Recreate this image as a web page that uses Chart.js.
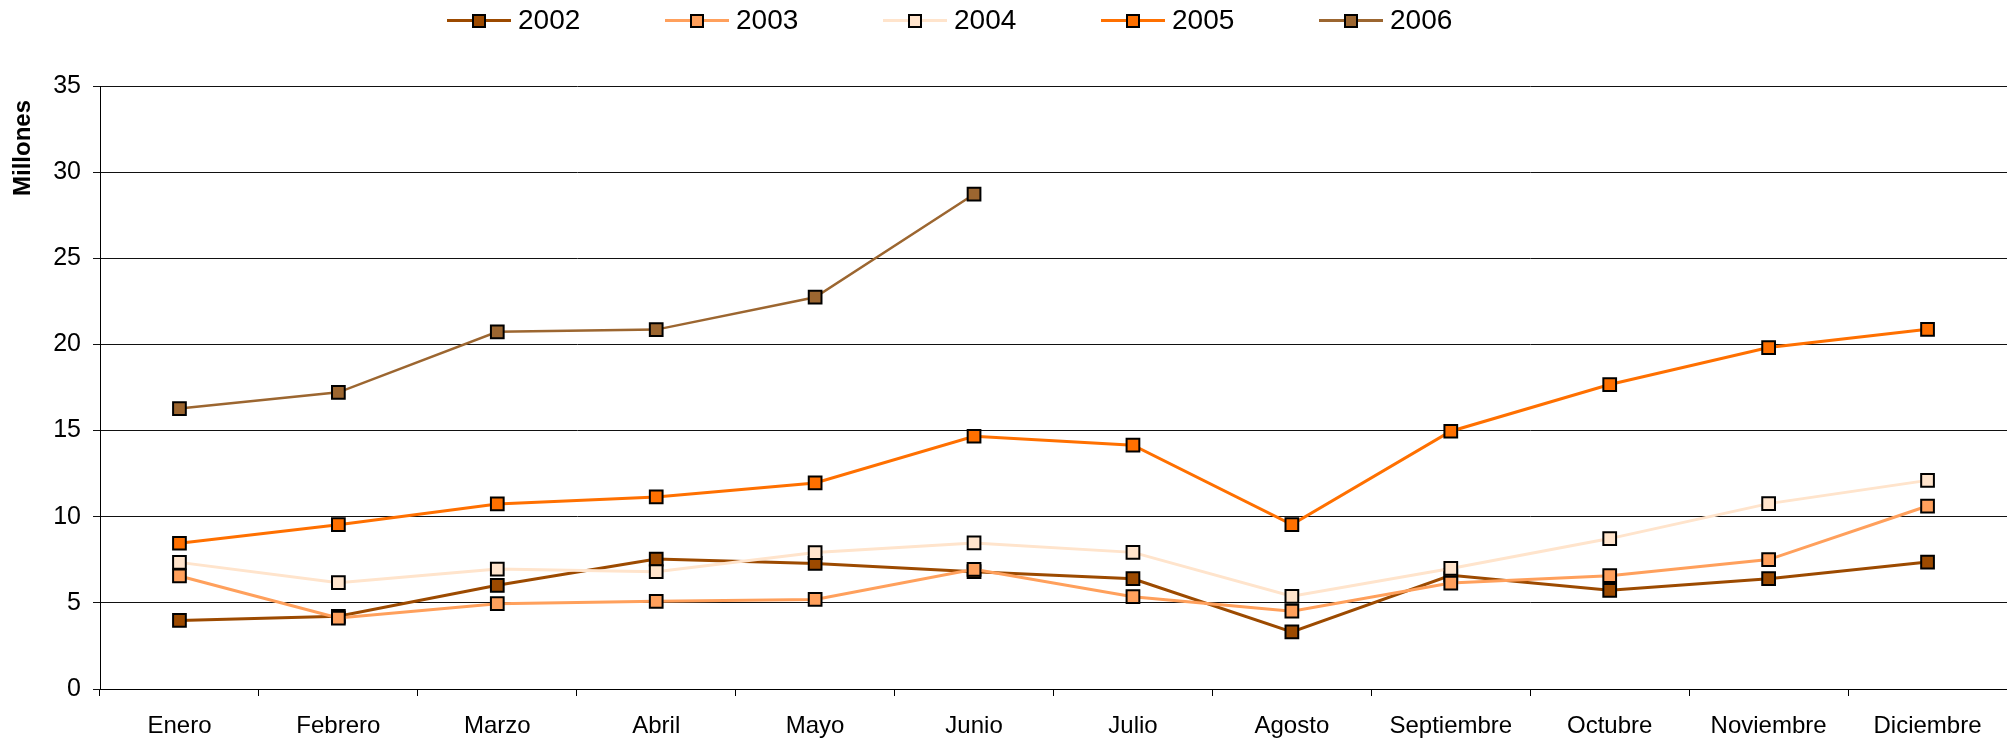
<!DOCTYPE html>
<html lang="es">
<head>
<meta charset="utf-8">
<title>Millones por mes 2002-2006</title>
<script src="https://cdn.jsdelivr.net/npm/chart.js@4.4.1/dist/chart.umd.min.js"></script>
<style>
  html, body { margin: 0; padding: 0; background: #fff; overflow: hidden; }
  #wrap { position: relative; width: 2007px; height: 742px; }
  #chart { display: block; }
  #legend { position: absolute; left: 447px; top: 3px; display: flex; font-family: Arial, "Liberation Sans", sans-serif; font-size: 28px; color: #000; }
  .item { display: flex; align-items: center; width: 218px; height: 34px; }
  .sample { position: relative; width: 64px; height: 34px; margin-right: 7px; }
  .sample .ln { position: absolute; left: 0; right: 0; top: 16px; height: 3px; }
  .sample .mk { position: absolute; left: 25px; top: 11px; width: 10px; height: 10px; border: 2px solid #000; }
</style>
</head>
<body>
<div id="wrap">
  <canvas id="chart" width="2007" height="742"></canvas>
  <div id="legend"></div>
</div>
<script>
const months = ["Enero", "Febrero", "Marzo", "Abril", "Mayo", "Junio", "Julio", "Agosto", "Septiembre", "Octubre", "Noviembre", "Diciembre"];
const years = ["2002", "2003", "2004", "2005", "2006"];
const colors = ["#9c4a00", "#ffa05c", "#ffe4cc", "#ff7000", "#9c6630"];

const v2002 = [3.98, 4.22, 6.02, 7.54, 7.29, 6.81, 6.40, 3.31, 6.60, 5.73, 6.40, 7.37];
const v2003 = [6.56, 4.12, 4.95, 5.09, 5.20, 6.95, 5.36, 4.52, 6.15, 6.58, 7.51, 10.62];
const v2004 = [7.35, 6.17, 6.96, 6.81, 7.92, 8.48, 7.93, 5.38, 7.00, 8.73, 10.76, 12.11];
const v2005 = [8.46, 9.54, 10.74, 11.15, 11.96, 14.67, 14.15, 9.54, 14.96, 17.67, 19.82, 20.88];
const v2006 = [16.28, 17.22, 20.73, 20.86, 22.74, 28.72, null, null, null, null, null, null];

const yTicks = [0, 5, 10, 15, 20, 25, 30, 35];
const yTitle = "Millones";

const series = [v2002, v2003, v2004, v2005, v2006];
const FONT = "Arial, 'Liberation Sans', sans-serif";

// legend drawn as html, left of centre like the original
const legendEl = document.getElementById("legend");
years.forEach((y, i) => {
  const item = document.createElement("div");
  item.className = "item";
  item.innerHTML = `<div class="sample"><div class="ln" style="background:${colors[i]}"></div><div class="mk" style="background:${colors[i]}"></div></div><span>${y}</span>`;
  legendEl.appendChild(item);
});

const yTitlePlugin = {
  id: "yTitle",
  afterDraw(chart) {
    const ctx = chart.ctx;
    ctx.save();
    ctx.translate(23, 148);
    ctx.rotate(-Math.PI / 2);
    ctx.font = `bold 24px ${FONT}`;
    ctx.fillStyle = "#000";
    ctx.textAlign = "center";
    ctx.textBaseline = "middle";
    ctx.fillText(yTitle, 0, 0);
    ctx.restore();
  },
};

new Chart(document.getElementById("chart"), {
  type: "line",
  data: {
    labels: months,
    datasets: series.map((data, i) => ({
      label: years[i],
      data,
      order: series.length - 1 - i,
      borderColor: colors[i],
      backgroundColor: colors[i],
      borderWidth: i === 4 ? 2.5 : 3,
      pointStyle: "rect",
      pointRadius: 9,
      pointBorderWidth: 2,
      pointBorderColor: "#000",
      pointBackgroundColor: colors[i],
      tension: 0,
      spanGaps: false,
    })),
  },
  options: {
    responsive: false,
    animation: false,
    devicePixelRatio: 1,
    layout: { autoPadding: false, padding: { top: 86, left: 0, right: 0, bottom: 0 } },
    plugins: { legend: { display: false }, tooltip: { enabled: false } },
    scales: {
      x: {
        offset: true,
        grid: { offset: true, drawOnChartArea: false, tickLength: 7, color: "#000" },
        border: { color: "#000", width: 1 },
        ticks: { color: "#000", font: { family: FONT, size: 24 }, padding: 16, maxRotation: 0, autoSkip: false },
        afterFit(scale) {
          scale.height = 53;
          // plot runs right up to the edge, as in the original
          scale.paddingLeft = 0;
          scale.paddingRight = 0;
        },
      },
      y: {
        min: 0,
        max: 35,
        afterBuildTicks(scale) { scale.ticks = yTicks.map((value) => ({ value })); },
        grid: { color: "#111", tickLength: 7 },
        border: { color: "#000", width: 1 },
        ticks: { color: "#000", font: { family: FONT, size: 25 }, padding: 12 },
        afterFit(scale) { scale.width = 100; },
      },
    },
  },
  plugins: [yTitlePlugin],
});
</script>
</body>
</html>
